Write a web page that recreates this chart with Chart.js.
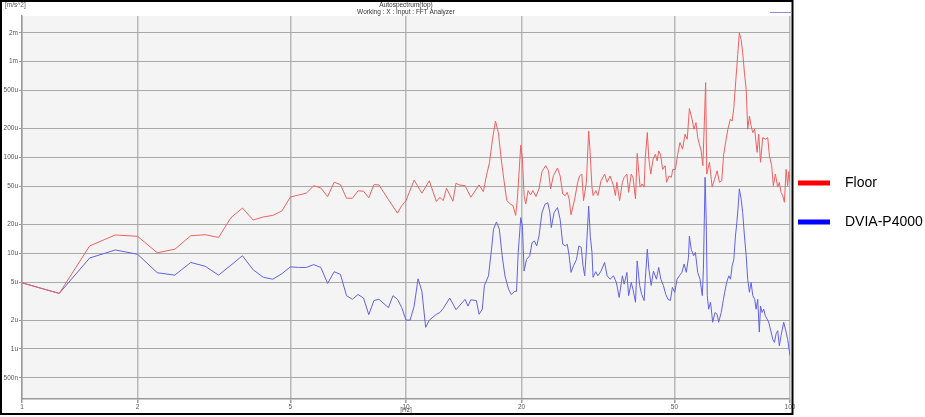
<!DOCTYPE html>
<html>
<head>
<meta charset="utf-8">
<script src="https://cdn.jsdelivr.net/npm/chart.js@4.4.1/dist/chart.umd.min.js"></script>
<style>
  html, body { margin: 0; padding: 0; background: #fff; }
  canvas { display: block; }
</style>
</head>
<body>
<canvas id="chtSpectrum" width="925" height="417"></canvas>
<script>
'use strict';

// Autospectrum, values in um/s^2
const floorFreq = [
    1, 1.25, 1.5, 1.75, 2, 2.25, 2.5, 2.75, 3, 3.25, 3.5, 3.75, 4, 4.25, 4.5, 4.75,
    5, 5.25, 5.5, 5.75, 6, 6.25, 6.5, 6.75, 7, 7.25, 7.5, 7.75, 8, 8.25, 8.5, 9,
    9.5, 9.75, 10, 10.5, 11, 11.5, 12, 12.25, 12.5, 12.75, 13.25, 13.5, 13.75, 14.25, 14.75, 15.5,
    15.9, 16.2, 16.5, 16.8, 17.1, 17.4, 17.7, 18.0, 18.3, 18.7, 19.0, 19.3, 19.5, 19.9, 20.1, 20.3,
    20.5, 20.8, 21.1, 21.4, 21.8, 22.2, 22.6, 23.1, 23.5, 23.8, 24.2, 24.8, 25.2, 25.6, 26.0, 26.3,
    26.6, 26.9, 27.5, 28.0, 28.3, 28.7, 29.0, 29.5, 29.9, 30.1, 30.5, 30.7, 31.2, 31.6, 32.2, 32.9,
    33.4, 34.0, 34.7, 35.1, 35.4, 36.0, 36.6, 37.0, 37.6, 38.0, 38.6, 39.0, 39.6, 40.0, 40.7, 41.2,
    41.7, 42.0, 42.5, 42.9, 43.4, 44.0, 44.6, 45.1, 45.5, 46.0, 46.6, 47.3, 47.7, 48.4, 49.1, 49.5,
    50.3, 51.0, 51.7, 52.5, 53.3, 54.0, 54.7, 55.6, 56.2, 56.9, 57.5, 58.7, 59.3, 59.9, 60.3, 60.7,
    61.7, 62.7, 63.6, 64.6, 65.5, 66.4, 67.2, 68.2, 68.9, 69.9, 70.7, 71.4, 72.4, 73.1, 73.8, 74.6,
    75.3, 76.1, 76.9, 77.6, 78.4, 79.2, 80.0, 80.9, 82.1, 82.9, 83.8, 84.9, 86.3, 87.5, 88.4, 89.6,
    90.5, 91.6, 92.9, 93.8, 94.8, 95.7, 96.7, 97.7, 98.6, 99.3, 100
];
const floorValues = [
    4.9, 3.8, 11.9, 15.5, 15.0, 10.1, 11, 15.2, 15.6, 14.6, 23.5, 29.6, 22.2, 23.9, 24.8, 27.6,
    38.6, 40.5, 42.3, 50.7, 48, 39, 55, 52, 37.5, 37.5, 44.7, 44.4, 37.8, 52, 51.6, 36.3,
    26.2, 31.4, 35.4, 58, 42.3, 57, 34.6, 38.4, 35.4, 47.6, 34.9, 54, 51.6, 50.7, 38.4, 51.6,
    43.9, 64.4, 88.9, 155, 240, 182, 96, 57, 35.4, 32.6, 31.3, 24.8, 36.8, 134, 96, 40,
    32.6, 45, 40.5, 45, 39, 47, 71, 82, 72.5, 47, 64.4, 77.6, 64, 41.5, 40, 43.2,
    36.8, 25.2, 36.8, 55, 64, 67, 35.4, 55, 189, 130, 49, 40, 45, 40, 57, 67,
    55, 64, 50.7, 40, 55, 35.4, 55, 62, 67, 43.2, 67, 62, 36.8, 110, 49, 52.8,
    49, 100, 182, 96, 67, 96, 108, 92, 117, 108, 75, 82, 55, 64, 62, 75,
    75, 108, 143, 122, 175, 155, 324, 250, 197, 231, 161, 117, 82, 270, 604, 67,
    89, 49, 59, 72.5, 55, 57, 108, 155, 197, 250, 240, 332, 707, 1190, 2000, 1700,
    1240, 763, 510, 197, 270, 213, 182, 197, 113, 175, 89, 161, 155, 161, 104, 82,
    50.7, 67, 49, 55, 43, 40, 34, 75, 50.7, 71, 55
];

const dviaFreq = [
    1, 1.25, 1.5, 1.75, 2, 2.25, 2.5, 2.75, 3, 3.25, 3.5, 3.75, 4, 4.25, 4.5, 4.75,
    5, 5.25, 5.5, 5.75, 6, 6.25, 6.5, 6.75, 7, 7.25, 7.5, 7.75, 8, 8.25, 8.5, 9,
    9.25, 9.5, 9.75, 10, 10.25, 10.5, 10.75, 11, 11.25, 11.5, 12, 12.25, 12.5, 13, 13.5, 14.25,
    14.5, 14.75, 15.25, 15.5, 15.8, 16.0, 16.4, 16.7, 16.9, 17.2, 17.5, 17.8, 18.1, 18.5, 18.8, 19.2,
    19.4, 19.6, 19.9, 20.1, 20.3, 20.6, 21.0, 21.3, 21.6, 21.9, 22.2, 22.6, 23.0, 23.4, 23.7, 23.9,
    24.3, 24.8, 25.2, 25.6, 26.0, 26.3, 26.6, 26.9, 27.3, 27.8, 28.2, 28.6, 28.9, 29.2, 29.5, 29.9,
    30.2, 30.5, 30.7, 31.2, 31.6, 32.2, 32.9, 33.4, 34.0, 34.7, 35.3, 35.9, 36.6, 37.0, 37.6, 38.0,
    38.6, 39.0, 39.6, 40.0, 40.6, 41.1, 41.7, 42.0, 42.5, 42.9, 43.5, 44.1, 44.9, 45.5, 46.1, 46.8,
    47.5, 48.1, 48.8, 49.4, 50.1, 50.8, 51.5, 52.3, 53.0, 53.7, 54.4, 54.7, 55.3, 56.1, 56.7, 57.5,
    58.3, 59.1, 59.5, 60.1, 60.5, 60.9, 61.4, 62.1, 62.9, 63.8, 64.6, 65.2, 66.2, 67.1, 67.6, 68.4,
    69.3, 70.0, 70.7, 71.4, 72.1, 72.7, 73.3, 73.8, 74.6, 75.3, 76.1, 76.9, 77.6, 78.4, 79.2, 80.0,
    80.9, 81.6, 82.4, 83.2, 83.8, 84.6, 85.4, 86.3, 87.2, 88.0, 89.3, 90.2, 91.1, 92.0, 92.9, 93.8,
    94.8, 96.3, 97.7, 98.6, 100
];
const dviaValues = [
    4.9, 3.8, 8.9, 10.8, 9.75, 6.25, 5.9, 8.0, 7.3, 5.9, 7.5, 9.4, 6.7, 5.6, 5.35, 6.1,
    7.2, 7.1, 7.1, 7.6, 7.1, 4.83, 6.4, 6.0, 3.6, 3.3, 3.7, 3.4, 2.28, 3.2, 3.3, 2.7,
    3.6, 3.3, 2.7, 2.0, 2.0, 2.8, 5.4, 4.0, 1.68, 2.0, 2.3, 2.4, 2.65, 3.4, 2.57, 3.3,
    2.8, 3.26, 3.2, 2.3, 2.6, 4.6, 5.8, 11, 17.8, 21.2, 17.8, 9.4, 5.8, 4.2, 3.7, 4.0,
    4.0, 10.2, 23.5, 19.2, 6.5, 8.6, 9.4, 12.9, 13.4, 11.9, 15.1, 26.5, 32.4, 33.7, 26.5, 18.5,
    26.5, 30, 22.6, 12.4, 11.9, 12.4, 9.4, 6.3, 7.4, 8.6, 11.9, 11.5, 7.4, 5.8, 11, 31,
    15, 10.2, 5.6, 6.4, 5.8, 6.5, 8.0, 5.8, 5.35, 5.8, 4.95, 3.45, 5.8, 4.75, 6.3, 3.6,
    4.95, 4.2, 3.07, 8.3, 4.6, 3.7, 3.2, 5.35, 11, 6.8, 4.6, 6.5, 5.35, 7.1, 5.35, 4.6,
    3.7, 3.3, 3.2, 4.4, 3.9, 5.35, 5.8, 6.3, 7.7, 6.3, 9.0, 15.1, 11, 9.4, 10.2, 6.3,
    5.35, 3.6, 6.8, 62, 22.6, 3.6, 2.6, 3.07, 1.9, 2.4, 2.3, 1.9, 2.4, 3.3, 3.9, 4.95,
    5.8, 5.35, 7.4, 8.6, 15.1, 20.8, 31, 47, 37, 26.5, 15.1, 9.4, 5.35, 3.9, 4.95, 3.6,
    3.3, 2.6, 3.3, 1.5, 2.8, 2.4, 2.6, 2.2, 2.05, 1.9, 1.5, 1.26, 1.17, 1.44, 1.55, 1.08,
    1.38, 1.9, 1.5, 1.26, 0.85
];

const seriesNames = ['Floor', 'DVIA-P4000'];
const lineColors = ['#ee6262', '#6262e4'];
const legendColors = ['#ff0000', '#0000ff'];

const freqTicks = [1, 2, 5, 10, 20, 50, 100];
const levelTicks = [0.5, 1, 2, 5, 10, 20, 50, 100, 200, 500, 1000, 2000];

const chartTitle = 'Autospectrum(top)';
const chartSubtitle = 'Working : X : Input : FFT Analyzer';
const unitY = '[m/s^2]';
const unitX = '[Hz]';

const smallFont = { family: 'Liberation Sans, Arial, sans-serif', size: 6.5 };

function toPoints(xs, ys) {
    return xs.map((x, i) => ({ x: x, y: ys[i] }));
}

// um/s^2 -> 500n / 1u / 1m style label
function levelLabel(v) {
    if (v >= 1000) return (v / 1000) + 'm';
    if (v < 1) return Math.round(v * 1000) + 'n';
    return v + 'u';
}

const framePlugin = {
    id: 'frame',
    beforeDraw(chart) {
        const ctx = chart.ctx;
        const area = chart.chartArea;
        ctx.save();
        ctx.fillStyle = '#ffffff';
        ctx.fillRect(0, 0, chart.width, chart.height);
        ctx.fillStyle = '#f4f4f4';
        ctx.fillRect(area.left, area.top, area.right - area.left, area.bottom - area.top);
        ctx.restore();
    },
    afterDraw(chart) {
        const ctx = chart.ctx;
        const area = chart.chartArea;
        const midX = (area.left + area.right) / 2;
        ctx.save();

        // outer box
        ctx.strokeStyle = '#000';
        ctx.lineWidth = 2;
        ctx.strokeRect(1, 1, area.right + 1.5, chart.height - 4);

        // titles
        ctx.fillStyle = '#333';
        ctx.font = '6.5px "Liberation Sans", Arial, sans-serif';
        ctx.textAlign = 'center';
        ctx.textBaseline = 'middle';
        ctx.fillText(chartTitle, midX, 5.5);
        ctx.fillText(chartSubtitle, midX, 12.5);
        ctx.textAlign = 'left';
        ctx.fillStyle = '#555';
        ctx.fillText(unitY, 5, 5.5);

        // small marker at top right
        ctx.strokeStyle = '#8a8ae0';
        ctx.lineWidth = 1;
        ctx.beginPath();
        ctx.moveTo(area.right - 20, 12.5);
        ctx.lineTo(area.right + 2, 12.5);
        ctx.stroke();

        // legend on the right
        ctx.font = '14px "Liberation Sans", Arial, sans-serif';
        ctx.textBaseline = 'middle';
        chart.data.datasets.forEach((ds, i) => {
            const y = 183 + i * 39;
            ctx.strokeStyle = legendColors[i];
            ctx.lineWidth = 5;
            ctx.beginPath();
            ctx.moveTo(area.right + 8, y);
            ctx.lineTo(area.right + 40, y);
            ctx.stroke();
            ctx.fillStyle = '#000';
            ctx.fillText(ds.label, area.right + 55, y + 0.5);
        });
        ctx.restore();
    }
};

new Chart(document.getElementById('chtSpectrum'), {
    type: 'line',
    data: {
        datasets: [
            {
                label: seriesNames[0],
                data: toPoints(floorFreq, floorValues),
                borderColor: lineColors[0],
                borderWidth: 1,
                pointRadius: 0,
                tension: 0
            }, {
                label: seriesNames[1],
                data: toPoints(dviaFreq, dviaValues),
                borderColor: lineColors[1],
                borderWidth: 1,
                pointRadius: 0,
                tension: 0
            }
        ]
    },
    options: {
        responsive: false,
        animation: false,
        devicePixelRatio: 1,
        layout: {
            padding: { top: 16, right: 135, left: 0, bottom: 0 }
        },
        plugins: {
            legend: { display: false },
            tooltip: { enabled: false }
        },
        scales: {
            x: {
                type: 'logarithmic',
                min: 1,
                max: 100,
                afterBuildTicks(scale) {
                    scale.ticks = freqTicks.map((v) => ({ value: v }));
                },
                afterFit(scale) {
                    scale.height = 18;
                },
                ticks: {
                    autoSkip: false,
                    maxRotation: 0,
                    padding: 0,
                    color: '#555',
                    font: smallFont,
                    callback: (v) => String(v)
                },
                grid: {
                    color: '#b8b8b8',
                    lineWidth: 1.5,
                    tickLength: 4,
                    tickColor: '#9a9a9a'
                },
                border: { color: '#9a9a9a', width: 1.5 },
                title: {
                    display: true,
                    text: unitX,
                    color: '#555',
                    font: smallFont,
                    padding: { top: 0, bottom: 2.5 }
                }
            },
            y: {
                type: 'logarithmic',
                min: 0.31,
                max: 3000,
                afterBuildTicks(scale) {
                    scale.ticks = levelTicks.map((v) => ({ value: v }));
                },
                afterFit(scale) {
                    scale.width = 22;
                },
                ticks: {
                    autoSkip: false,
                    padding: 1,
                    color: '#555',
                    font: smallFont,
                    callback: (v) => levelLabel(v)
                },
                grid: {
                    color: '#a8a8a8',
                    lineWidth: 1,
                    tickLength: 3,
                    tickColor: '#9a9a9a'
                },
                border: { color: '#9a9a9a', width: 1.5 }
            }
        }
    },
    plugins: [framePlugin]
});
</script>
</body>
</html>
